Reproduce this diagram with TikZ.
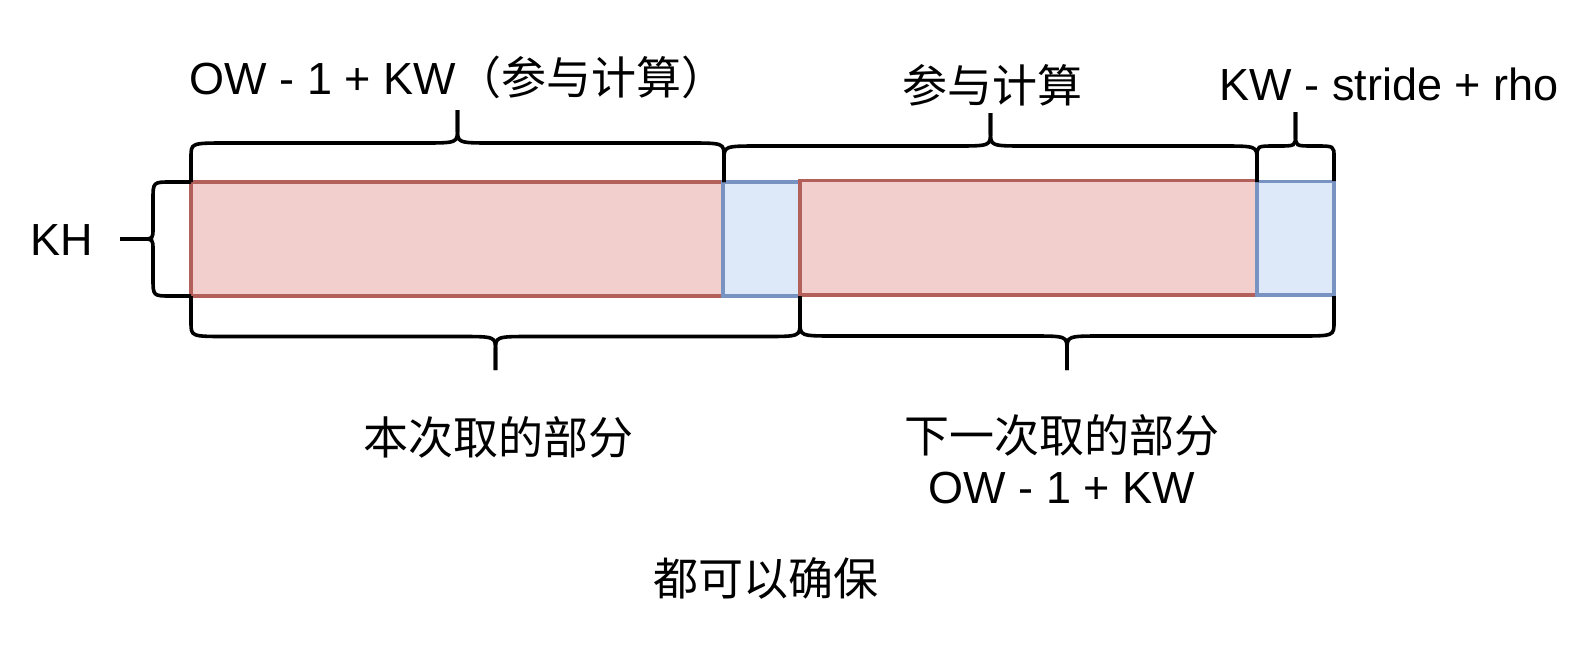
\documentclass[tikz,border=0pt]{standalone}
\usepackage{fontspec}
\setmainfont{Liberation Sans}
\newfontfamily\cjk{Noto Sans CJK SC}
\definecolor{redfill}{HTML}{F2CFCD}
\definecolor{redline}{HTML}{B35F5A}
\definecolor{bluefill}{HTML}{DDE8F9}
\definecolor{blueline}{HTML}{7893C2}
\newcommand{\hbrace}[7]{%
  \pgfmathsetmacro\xm{(#1+#2)/2}%
  \draw[bracestyle] (#1,#3) -- (#1,#4+#7) .. controls (#1,#4) .. (#1+#6,#4) -- (\xm-#6,#4) .. controls (\xm,#4) .. (\xm,#4-#7) -- (\xm,#5);
  \draw[bracestyle] (\xm,#5) -- (\xm,#4-#7) .. controls (\xm,#4) .. (\xm+#6,#4) -- (#2-#6,#4) .. controls (#2,#4) .. (#2,#4+#7) -- (#2,#3);
}
\begin{document}
\begin{tikzpicture}[x=0.5pt,y=-0.5pt,
  bracestyle/.style={draw=black,line width=1.8pt,line cap=butt},
  redbox/.style={draw=redline,fill=redfill,line width=1.6pt},
  bluebox/.style={draw=blueline,fill=bluefill,line width=1.6pt},
  lbl/.style={font=\fontsize{22.5pt}{27pt}\selectfont,inner sep=0pt,anchor=base}]
\fill[white] (0,0) rectangle (1586,644);
% blocks
\draw[redbox] (191,182) rectangle (723,296);
\draw[bluebox] (723,182) rectangle (800,296);
\draw[redbox] (800,180.5) rectangle (1257,295);
\draw[bluebox] (1257,181.5) rectangle (1334,295);
% top braces
\hbrace{191}{724}{182}{143}{110}{36}{14}
\hbrace{724}{1257}{182}{146}{113}{36}{14}
\hbrace{1257}{1334}{181}{146}{112}{18}{11}
% bottom braces
\hbrace{191}{800}{296}{336.5}{370}{36}{-14}
\hbrace{800}{1334}{296}{336}{370}{36}{-14}
% KH brace
\draw[bracestyle] (191,182) -- (153+18,182) .. controls (153,182) .. (153,182+18) -- (153,239-11) .. controls (153,239) .. (153-11,239) -- (120,239);
\draw[bracestyle] (120,239) -- (153-11,239) .. controls (153,239) .. (153,239+11) -- (153,296-18) .. controls (153,296) .. (153+18,296) -- (191,296);
% labels
\node[lbl] (kh) at (62,255) {KH};
\node[lbl] (t1) at (458,94) {OW - 1 + KW{\cjk （参与计算）}};
\node[lbl] (t2) at (992,102) {\cjk 参与计算};
\node[lbl] (t3) at (1389,100) {KW - stride + rho};
\node[lbl] (t4) at (498,454) {\cjk 本次取的部分};
\node[lbl] (t5) at (1062,452) {\cjk 下一次取的部分};
\node[lbl] (t5b) at (1062,503) {OW - 1 + KW};
\node[lbl] (t6) at (766,595) {\cjk 都可以确保};
\end{tikzpicture}
\end{document}
